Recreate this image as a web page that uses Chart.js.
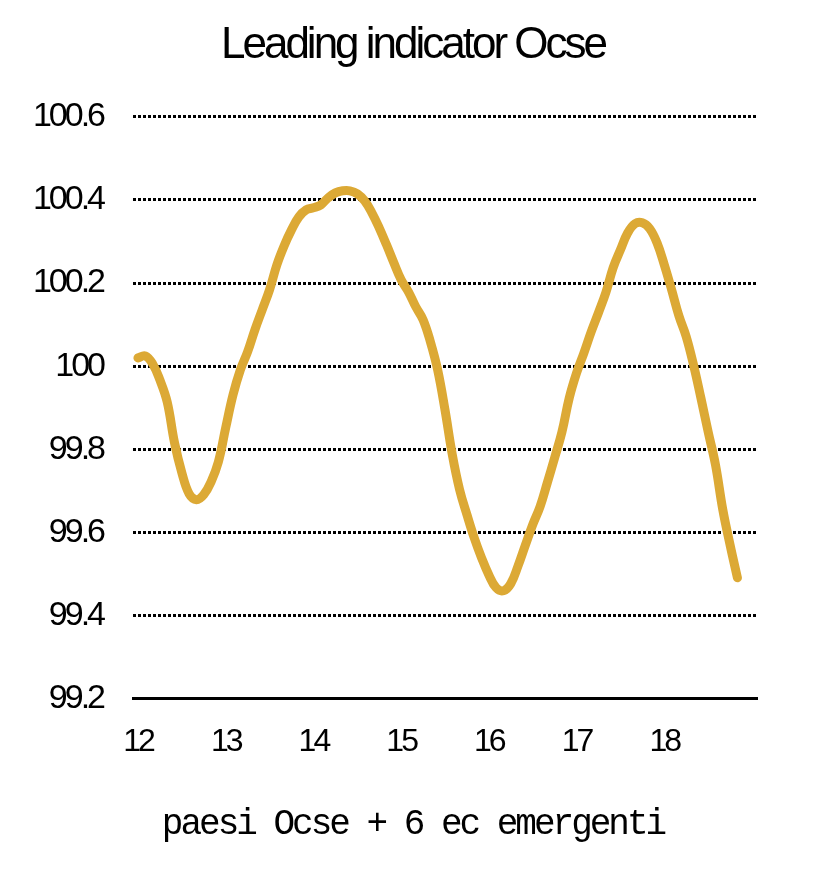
<!DOCTYPE html>
<html>
<head>
<meta charset="utf-8">
<script src="https://cdn.jsdelivr.net/npm/chart.js@4"></script>
<style>
  html, body { margin: 0; padding: 0; background: #fff; }
  #wrap { width: 826px; height: 870px; }
</style>
</head>
<body>
<div id="wrap"><canvas id="myChart" width="826" height="870"></canvas></div>
<script>
// monthly values, Jan 2012 -> Nov 2018
const values = [
  100.02, 100.025, 100.006, 99.967, 99.914, 99.816, 99.744, 99.693, 99.679, 99.691, 99.722, 99.770,
  99.852, 99.931, 99.991, 100.035, 100.088, 100.136, 100.184, 100.244, 100.290, 100.328, 100.359, 100.376,
  100.381, 100.388, 100.405, 100.417, 100.422, 100.422, 100.415, 100.398, 100.369, 100.333, 100.292, 100.249,
  100.208, 100.179, 100.143, 100.112, 100.059, 99.991, 99.895, 99.787, 99.703, 99.643, 99.587, 99.539,
  99.498, 99.467, 99.460, 99.477, 99.520, 99.570, 99.619, 99.662, 99.720, 99.780, 99.842, 99.924,
  99.984, 100.032, 100.083, 100.129, 100.177, 100.237, 100.280, 100.321, 100.343, 100.345, 100.331, 100.297,
  100.244, 100.184, 100.121, 100.071, 100.003, 99.924, 99.842, 99.763, 99.655, 99.570, 99.491
];
const years = ["12", "13", "14", "15", "16", "17", "18"];
const yMin = 99.2;
const yMax = 100.6;

const ctx = document.getElementById("myChart").getContext("2d");

// tight tracking like the original type
const tightText = {
  id: "tightText",
  beforeLayout(chart) { chart.ctx.letterSpacing = "-3px"; },
  beforeDraw(chart) { chart.ctx.letterSpacing = "-3px"; },
};

const data = {
  datasets: [
    {
      data: values.map((v, i) => ({ x: i, y: v })),
      borderColor: "#DCA935",
      borderWidth: 9,
      borderCapStyle: "round",
      borderJoinStyle: "round",
      pointRadius: 0,
      tension: 0.4,
      fill: false,
    },
  ],
};

const config = {
  type: "line",
  data: data,
  plugins: [tightText],
  options: {
    responsive: false,
    animation: false,
    layout: { padding: 0 },
    plugins: {
      legend: { display: false },
      tooltip: { enabled: false },
      title: {
        display: true,
        text: "Leading indicator Ocse",
        color: "#000",
        font: { family: "'Liberation Sans', Arial, sans-serif", size: 44, weight: "normal" },
        padding: { top: 19, bottom: 45 },
      },
      subtitle: {
        display: true,
        position: "bottom",
        text: "paesi Ocse + 6 ec emergenti",
        color: "#000",
        font: { family: "'Liberation Mono', 'Courier New', monospace", size: 36, weight: "normal" },
        padding: { top: 41, bottom: 24 },
      },
    },
    scales: {
      x: {
        type: "linear",
        min: -0.68,
        max: 84.68,
        afterBuildTicks(scale) {
          scale.ticks = years.map((y, i) => ({ value: i * 12 }));
        },
        afterFit(scale) { scale.height = 63; },
        ticks: {
          autoSkip: false,
          maxRotation: 0,
          padding: 24,
          color: "#000",
          font: { family: "'Liberation Sans', Arial, sans-serif", size: 32 },
          callback: (value, index) => years[index],
        },
        grid: { display: false, drawTicks: false },
        border: { display: true, color: "#000", width: 3 },
      },
      y: {
        min: yMin,
        max: yMax,
        afterFit(scale) { scale.width = 133; },
        ticks: {
          stepSize: 0.2,
          padding: 30,
          color: "#000",
          font: { family: "'Liberation Sans', Arial, sans-serif", size: 34 },
          callback: (value) => String(Number(value.toFixed(1))),
        },
        grid: {
          drawTicks: false,
          color: "#000",
          lineWidth: (c) => (Math.abs(c.tick.value - yMin) < 1e-6 ? 0 : 3),
        },
        border: { display: false, dash: [3, 2] },
      },
      // empty right-hand box, keeps the plot's right edge where the original has it
      yRight: {
        position: "right",
        display: true,
        afterFit(scale) { scale.width = 69; },
        ticks: { display: false },
        grid: { display: false, drawTicks: false },
        border: { display: false },
      },
    },
  },
};

new Chart(ctx, config);
</script>
</body>
</html>
